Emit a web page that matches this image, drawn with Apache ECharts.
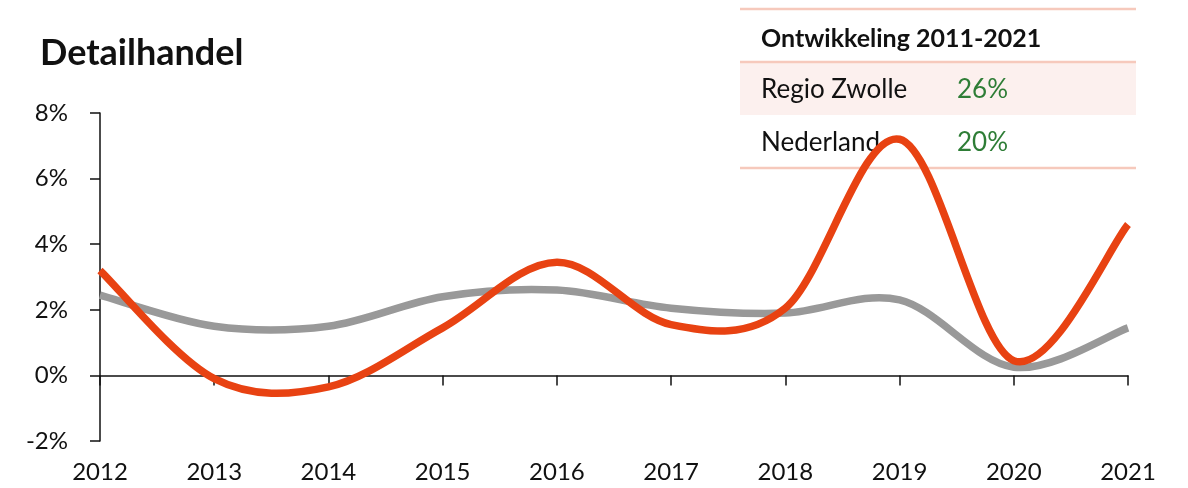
<!DOCTYPE html>
<html>
<head>
<meta charset="utf-8">
<script src="https://cdn.jsdelivr.net/npm/echarts@6/dist/echarts.min.js"></script>
<style>
html,body{margin:0;padding:0;background:#fff;}
#chart{width:1188px;height:488px;}
</style>
</head>
<body>
<div id="chart"></div>
<script>
var years = ['2012','2013','2014','2015','2016','2017','2018','2019','2020','2021'];
var regioZwolle = [3.2, -0.1, -0.35, 1.45, 3.45, 1.55, 2.05, 7.2, 0.45, 4.6];
var nederland = [2.45, 1.5, 1.5, 2.4, 2.6, 2.05, 1.9, 2.3, 0.25, 1.45];
var tableTitle = 'Ontwikkeling 2011-2021';
var tableNames = ['Regio Zwolle', 'Nederland'];
var tableValues = ['26%', '20%'];

var FONT = 'Lato';
var chart = echarts.init(document.getElementById('chart'), null, {renderer: 'canvas'});

var lineColor = '#F6C9BC';
var graphics = [
  {type:'rect', shape:{x:740, y:62, width:396, height:53}, style:{fill:'#FCF0EE'}, z:0},
  {type:'line', shape:{x1:740, y1:9, x2:1136, y2:9}, style:{stroke:lineColor, lineWidth:2.5}, z:0},
  {type:'line', shape:{x1:740, y1:62, x2:1136, y2:62}, style:{stroke:lineColor, lineWidth:2.5}, z:0},
  {type:'line', shape:{x1:740, y1:168, x2:1136, y2:168}, style:{stroke:lineColor, lineWidth:2.5}, z:0},
  {type:'text', style:{x:761, y:39, text:tableTitle, font:'bold 25px ' + FONT, fill:'#111', verticalAlign:'middle'}, z:0}
];
for (var i = 0; i < tableNames.length; i++) {
  graphics.push({type:'text', style:{x:761, y:90 + i*53, text:tableNames[i], font:'26px ' + FONT, fill:'#111', verticalAlign:'middle'}, z:0});
  graphics.push({type:'text', style:{x:957, y:90 + i*53, text:tableValues[i], font:'26px ' + FONT, fill:'#2E7D36', verticalAlign:'middle'}, z:0});
}

// Excel-style smoothed line (cubic Bezier through every point), positioned via the axes
function smoothRenderer(values, color) {
  return function (params, api) {
    if (params.dataIndex !== 0) return null;
    var pts = values.map(function (v, i) { return api.coord([i, v]); });
    var d = 'M' + pts[0][0] + ' ' + pts[0][1];
    for (var k = 0; k < pts.length - 1; k++) {
      var p0 = pts[k - 1] || pts[k], p1 = pts[k], p2 = pts[k + 1], p3 = pts[k + 2] || pts[k + 1];
      var c1x = p1[0] + (p2[0] - p0[0]) / 6, c1y = p1[1] + (p2[1] - p0[1]) / 6;
      var c2x = p2[0] - (p3[0] - p1[0]) / 6, c2y = p2[1] - (p3[1] - p1[1]) / 6;
      d += ' C' + c1x + ' ' + c1y + ' ' + c2x + ' ' + c2y + ' ' + p2[0] + ' ' + p2[1];
    }
    return {
      type: 'path',
      shape: {pathData: d},
      style: {fill: 'none', stroke: color, lineWidth: 7.5, lineCap: 'butt', lineJoin: 'round'}
    };
  };
}

chart.setOption({
  animation: false,
  title: {
    text: 'Detailhandel', left: 35, top: 30,
    textStyle: {fontFamily: FONT, fontWeight: 'bold', fontSize: 36, color: '#111'}
  },
  grid: {left: 100, right: 60, top: 113, bottom: 47, containLabel: false, outerBoundsMode: 'none'},
  graphic: graphics,
  xAxis: {
    type: 'category', data: years, boundaryGap: false,
    axisLine: {onZero: true, lineStyle: {color: '#111', width: 1.5}},
    axisTick: {show: true, length: 10, inside: false, lineStyle: {color: '#111', width: 1.5}},
    axisLabel: {margin: 19, fontFamily: FONT, fontSize: 24, color: '#111'},
    splitLine: {show: false}
  },
  yAxis: {
    type: 'value', min: -2, max: 8, interval: 2,
    axisLine: {show: true, lineStyle: {color: '#111', width: 1.5}},
    axisTick: {show: true, length: 10, lineStyle: {color: '#111', width: 1.5}},
    axisLabel: {formatter: '{value}%', margin: 32, fontFamily: FONT, fontSize: 24, color: '#111'},
    splitLine: {show: false}
  },
  series: [
    {name: 'Nederland', type: 'custom', coordinateSystem: 'cartesian2d',
     data: nederland.map(function (v, i) { return [i, v]; }),
     encode: {x: 0, y: 1},
     renderItem: smoothRenderer(nederland, '#999999'), z: 3},
    {name: 'Regio Zwolle', type: 'custom', coordinateSystem: 'cartesian2d',
     data: regioZwolle.map(function (v, i) { return [i, v]; }),
     encode: {x: 0, y: 1},
     renderItem: smoothRenderer(regioZwolle, '#E84212'), z: 4}
  ]
});
</script>
</body>
</html>
